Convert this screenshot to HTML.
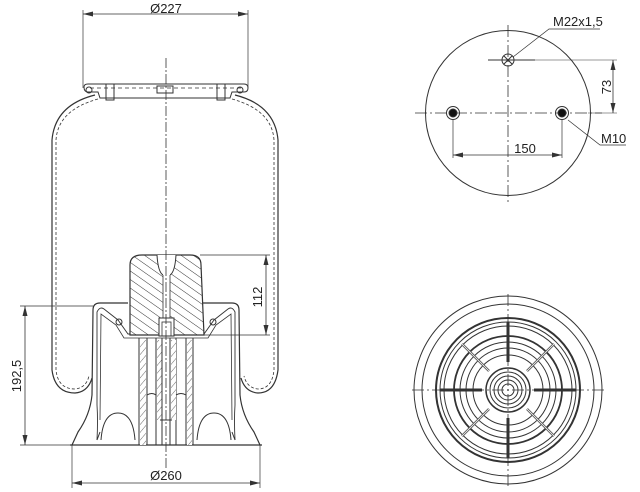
<!DOCTYPE html>
<html><head><meta charset="utf-8"><style>
html,body{margin:0;padding:0;background:#fff;}
svg{display:block;}
text{font-family:"Liberation Sans",sans-serif;fill:#222;}
</style></head><body>
<svg width="640" height="492" viewBox="0 0 640 492" xmlns="http://www.w3.org/2000/svg">
<defs>
<pattern id="h" width="7" height="7" patternUnits="userSpaceOnUse" patternTransform="rotate(35)">
<rect width="7" height="7" fill="#fff"/><line x1="0" y1="0" x2="7" y2="0" stroke="#333" stroke-width="1"/></pattern>
<pattern id="h2" width="5" height="5" patternUnits="userSpaceOnUse" patternTransform="rotate(-50)">
<rect width="5" height="5" fill="#fff"/><line x1="0" y1="0" x2="5" y2="0" stroke="#444" stroke-width="0.8"/></pattern>
<marker id="a" markerWidth="10" markerHeight="6" refX="10" refY="3" orient="auto-start-reverse" markerUnits="userSpaceOnUse"><path d="M0,0.5 L10,3 L0,5.5 Z" fill="#333"/></marker>
</defs>
<g fill="none" stroke="#333" stroke-width="1">
<!-- Ø227 -->
<line x1="83" y1="14" x2="248" y2="14" stroke-width="0.8" marker-start="url(#a)" marker-end="url(#a)"/>
<line x1="83" y1="10" x2="83" y2="88" stroke-width="0.7"/>
<line x1="248" y1="10" x2="248" y2="88" stroke-width="0.7"/>
<!-- top plate -->
<path d="M84,87 Q84,84 88,84 L244,84 Q248,84 248,88 Q248,92 244,92 L232,92 L230,98 L100,98 L98,92 L88,92 Q84,92 84,87Z"/>
<line x1="90" y1="88" x2="244" y2="88" stroke-dasharray="4,3" stroke-width="0.7"/>
<rect x="157" y="86" width="16" height="7"/>
<rect x="106" y="84" width="8" height="16"/><rect x="217" y="84" width="8" height="16"/>
<circle cx="89" cy="90" r="3"/><circle cx="240" cy="90" r="3"/>
<!-- bellows -->
<path d="M95,95 Q55,105 52,140 L52,370 Q55,393 75,393 Q88,392 92,378" stroke-width="1.2"/>
<path d="M98,99 Q58,110 56,140 L56,370 Q58,389 75,389 Q86,388 89,376" stroke-width="0.8" stroke-dasharray="3,2"/>
<path d="M235,95 Q275,105 278,140 L278,370 Q275,393 258,393 Q245,392 241,378" stroke-width="1.2"/>
<path d="M232,99 Q272,110 274,140 L274,370 Q272,389 258,389 Q247,388 244,376" stroke-width="0.8" stroke-dasharray="3,2"/>
<!-- piston outer -->
<path d="M72,445 L78,432 Q90,415 92,395 L93,310 Q93,303 100,303 L128,303" stroke-width="1.2"/>
<path d="M260,445 L254,432 Q242,415 240,395 L239,310 Q239,303 232,303 L202,303" stroke-width="1.2"/>
<path d="M97,440 Q98,420 97,405 L97,312 Q100,306 104,309 L118,320 L128,334 L204,334 L214,320 L228,309 Q232,306 235,312 L235,405 Q234,420 235,440" stroke-width="0.9"/>
<path d="M100,420 L101,314 L116,325 L124,338 L208,338 L216,325 L231,314 L232,420" stroke-width="0.8"/>
<circle cx="119" cy="322" r="3"/><circle cx="213" cy="322" r="3"/>
<line x1="70" y1="445" x2="262" y2="445" stroke-width="1.2"/>
<!-- tubes -->
<line x1="139" y1="338" x2="139" y2="445"/><line x1="147" y1="338" x2="147" y2="445"/>
<line x1="186" y1="338" x2="186" y2="445"/><line x1="193" y1="338" x2="193" y2="445"/>
<rect x="140" y="340" width="6" height="105" fill="url(#h2)" stroke="none"/>
<rect x="187" y="340" width="5" height="105" fill="url(#h2)" stroke="none"/>
<line x1="156" y1="338" x2="156" y2="445"/><line x1="176" y1="338" x2="176" y2="445"/>
<rect x="157" y="340" width="5" height="80" fill="url(#h2)" stroke="none"/>
<rect x="171" y="340" width="5" height="80" fill="url(#h2)" stroke="none"/>
<line x1="162" y1="338" x2="162" y2="445"/><line x1="170" y1="338" x2="170" y2="445"/>
<line x1="160" y1="420" x2="172" y2="420"/>
<path d="M147,395 Q152,392 156,395 M176,395 Q181,392 186,395"/>
<!-- arches -->
<path d="M101,440 Q103,413 118,413 Q133,413 135,440"/>
<path d="M197,440 Q199,413 214,413 Q229,413 231,440"/>
<path d="M97,440 L100,432 M235,440 L232,432"/>
<!-- bumper -->
<path d="M130,335 L130,265 Q130,255 142,255 L190,255 Q201,255 201,265 L204,335 Z" fill="url(#h)" stroke-width="1.2"/>
<path d="M157,255 Q158,272 163,275 L170,275 Q175,272 176,255" fill="#fff"/>
<rect x="163" y="258" width="7" height="60" fill="#fff" stroke="none"/>
<line x1="163" y1="275" x2="163" y2="320" stroke-width="0.8"/><line x1="170" y1="275" x2="170" y2="320" stroke-width="0.8"/>
<rect x="159" y="318" width="15" height="18" fill="#fff" stroke-width="1"/>
<rect x="162" y="322" width="9" height="14" fill="none" stroke-width="0.8"/>
<!-- centerline -->
<line x1="166" y1="58" x2="166" y2="470" stroke-dasharray="10,2,2,2" stroke-width="0.8"/>
<!-- 112 -->
<line x1="200" y1="255" x2="270" y2="255" stroke-width="0.7"/>
<line x1="204" y1="335" x2="270" y2="335" stroke-width="0.7"/>
<line x1="266" y1="255" x2="266" y2="335" stroke-width="0.8" marker-start="url(#a)" marker-end="url(#a)"/>
<!-- 192,5 -->
<line x1="20" y1="306" x2="93" y2="306" stroke-width="0.7"/>
<line x1="20" y1="445" x2="72" y2="445" stroke-width="0.7"/>
<line x1="25" y1="306" x2="25" y2="445" stroke-width="0.8" marker-start="url(#a)" marker-end="url(#a)"/>
<!-- Ø260 -->
<line x1="72" y1="445" x2="72" y2="488" stroke-width="0.7"/>
<line x1="260" y1="445" x2="260" y2="488" stroke-width="0.7"/>
<line x1="72" y1="483" x2="260" y2="483" stroke-width="0.8" marker-start="url(#a)" marker-end="url(#a)"/>

<!-- top right view -->
<circle cx="508" cy="113" r="82.5" stroke-width="1"/>
<line x1="415" y1="113" x2="602" y2="113" stroke-dasharray="12,3,2,3" stroke-width="0.8"/>
<line x1="508" y1="25" x2="508" y2="205" stroke-dasharray="12,3,2,3" stroke-width="0.8"/>
<line x1="488" y1="60" x2="535" y2="60"/>
<line x1="535" y1="60" x2="617" y2="60" stroke-width="0.6"/>
<line x1="588" y1="113" x2="617" y2="113" stroke-width="0.6"/>
<circle cx="508" cy="60" r="6"/>
<line x1="504" y1="56" x2="512" y2="64"/><line x1="512" y1="56" x2="504" y2="64"/>
<circle cx="453" cy="113" r="6.5"/><circle cx="453" cy="113" r="4" fill="#111"/>
<circle cx="562" cy="113" r="6.5"/><circle cx="562" cy="113" r="4" fill="#111"/>
<line x1="613" y1="60" x2="613" y2="113" stroke-width="0.8" marker-start="url(#a)" marker-end="url(#a)"/>
<line x1="453" y1="120" x2="453" y2="158" stroke-width="0.7"/>
<line x1="562" y1="120" x2="562" y2="158" stroke-width="0.7"/>
<line x1="453" y1="155" x2="562" y2="155" stroke-width="0.8" marker-start="url(#a)" marker-end="url(#a)"/>
<polyline points="600,29 549,29 513,57" stroke-width="0.7"/>
<polyline points="626,145 600,145 568,120" stroke-width="0.7"/>

<!-- bottom right view -->
<circle cx="508" cy="390" r="94"/>
<circle cx="508" cy="390" r="86"/>
<circle cx="508" cy="390" r="72" stroke-width="2"/>
<circle cx="508" cy="390" r="68"/>
<circle cx="508" cy="390" r="64"/>
<circle cx="508" cy="390" r="54" stroke-width="1.8"/>
<circle cx="508" cy="390" r="48"/>
<circle cx="508" cy="390" r="42"/>
<circle cx="508" cy="390" r="35"/>
<circle cx="508" cy="390" r="22" stroke-width="1.5"/>
<circle cx="508" cy="390" r="18"/>
<circle cx="508" cy="390" r="14"/>
<circle cx="508" cy="390" r="10"/>
<circle cx="508" cy="390" r="6"/>
<g stroke-width="3">
<line x1="440" y1="390" x2="482" y2="390"/><line x1="534" y1="390" x2="576" y2="390"/>
<line x1="508" y1="322" x2="508" y2="362"/><line x1="508" y1="418" x2="508" y2="458"/>
</g>
<g stroke-width="2.5" stroke="#555">
<line x1="462" y1="344" x2="489" y2="371"/><line x1="554" y1="344" x2="527" y2="371"/>
<line x1="462" y1="436" x2="489" y2="409"/><line x1="554" y1="436" x2="527" y2="409"/>
</g>
<g stroke="#fff" stroke-width="0.8">
<line x1="462" y1="344" x2="489" y2="371"/><line x1="554" y1="344" x2="527" y2="371"/>
<line x1="462" y1="436" x2="489" y2="409"/><line x1="554" y1="436" x2="527" y2="409"/>
</g>
<line x1="412" y1="390" x2="605" y2="390" stroke-dasharray="12,3,2,3" stroke-width="0.8"/>
<line x1="508" y1="294" x2="508" y2="488" stroke-dasharray="12,3,2,3" stroke-width="0.8"/>
</g>
<text x="166" y="13" font-size="13" text-anchor="middle">Ø227</text>
<text x="166" y="480" font-size="13" text-anchor="middle">Ø260</text>
<text transform="translate(262,297) rotate(-90)" font-size="13" text-anchor="middle">112</text>
<text transform="translate(21,376) rotate(-90)" font-size="13" text-anchor="middle">192,5</text>
<text x="553" y="26" font-size="13">M22x1,5</text>
<text x="601" y="143" font-size="13">M10</text>
<text x="525" y="153" font-size="13" text-anchor="middle">150</text>
<text transform="translate(611,87) rotate(-90)" font-size="13" text-anchor="middle">73</text>
</svg>
</body></html>
